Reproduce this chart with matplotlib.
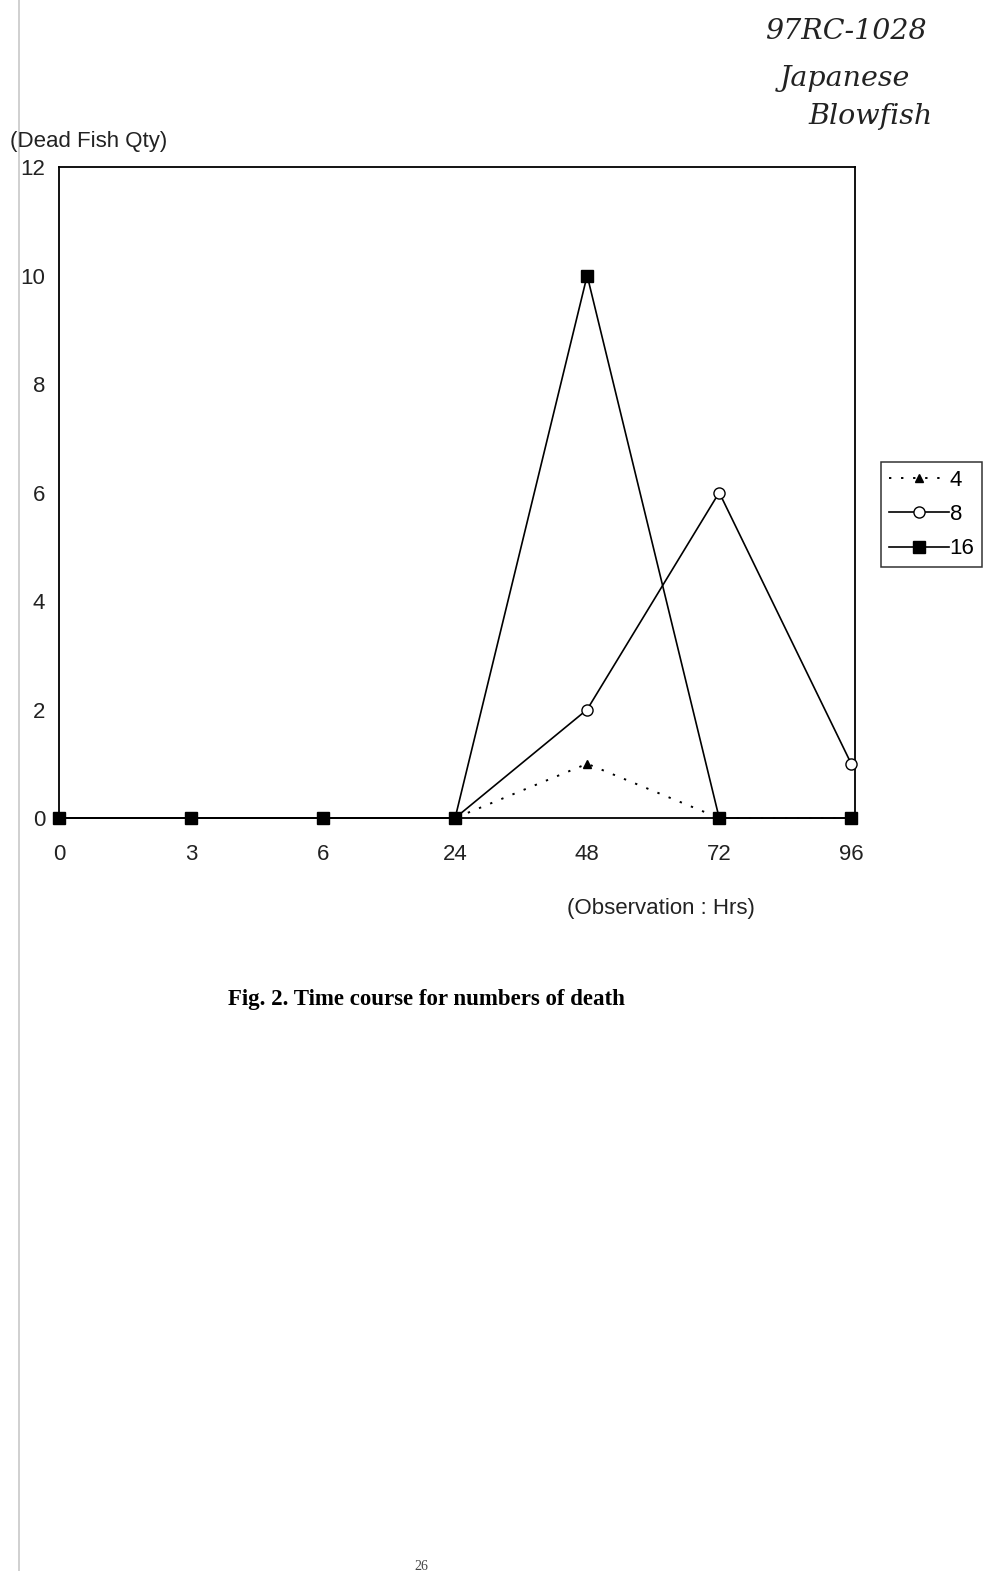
import matplotlib.pyplot as plt
from matplotlib.lines import Line2D

# observation times (hours) and dead fish counts per concentration
hours = ["0", "3", "6", "24", "48", "72", "96"]
dead_4 = [0, 0, 0, 0, 1, 0, 0]
dead_8 = [0, 0, 0, 0, 2, 6, 1]
dead_16 = [0, 0, 0, 0, 10, 0, 0]
y_ticks = [0, 2, 4, 6, 8, 10, 12]

plt.rcParams['font.family'] = ['Liberation Sans', 'DejaVu Sans']

fig = plt.figure(figsize=(9.83, 15.71), dpi=100)
ax = fig.add_axes([0.060, 0.4793, 0.810, 0.4144])

dots = (0, (1.2, 5))
x = list(range(len(hours)))
ax.plot(x, dead_4, ls=dots, color='black', lw=1.4, marker='^',
        ms=6, mfc='black', clip_on=False, zorder=3)
ax.plot(x, dead_8, ls='-', color='black', lw=1.2, marker='o', ms=8,
        mfc='white', mec='black', clip_on=False, zorder=4)
ax.plot(x, dead_16, ls='-', color='black', lw=1.2, marker='s', ms=8,
        mfc='black', clip_on=False, zorder=5)

ax.set_xlim(0, 6.03)
ax.set_ylim(0, 12)
ax.set_xticks(x)
ax.set_xticklabels(hours)
ax.set_yticks(y_ticks)
ax.tick_params(length=0, labelsize=16, colors='#222222')
ax.tick_params(axis='x', pad=19)
ax.tick_params(axis='y', pad=10)
for s in ax.spines.values():
    s.set_linewidth(1.3)

fig.text(0.010, 0.910, "(Dead Fish Qty)", fontsize=16, color='#222222', va='center')
fig.text(0.577, 0.422, "(Observation : Hrs)", fontsize=16, color='#222222', va='center')

fig.text(0.232, 0.364, "Fig. 2. Time course for numbers of death", fontsize=16.5,
         fontweight='bold', family=['Liberation Serif', 'DejaVu Serif'], va='center')

# page number at bottom
fig.text(0.422, -0.001, "26", fontsize=10, family=['Liberation Serif', 'DejaVu Serif'],
         va='bottom', color='#444444')

# handwritten note
note = dict(fontsize=20.5, style='italic', family=['DejaVu Serif'], color='#222222')
fig.text(0.778, 0.980, "97RC-1028", **note, va='center')
fig.text(0.793, 0.950, "Japanese", **note, va='center')
fig.text(0.822, 0.926, "Blowfish", **note, va='center')

handles = [
    Line2D([], [], ls=dots, color='black', lw=1.4, marker='^', ms=6),
    Line2D([], [], ls='-', color='black', lw=1.2, marker='o', ms=8, mfc='white'),
    Line2D([], [], ls='-', color='black', lw=1.2, marker='s', ms=8),
]
leg = fig.legend(handles, ["4", "8", "16"], loc='upper left',
                 bbox_to_anchor=(0.896, 0.706), borderaxespad=0, fontsize=16,
                 frameon=True, fancybox=False, edgecolor='black',
                 handlelength=2.7, handletextpad=0.05, borderpad=0.35,
                 labelspacing=0.6)
leg.get_frame().set_linewidth(1.1)

# faint scan line along the left edge
fig.add_artist(Line2D([0.019, 0.019], [0, 1], transform=fig.transFigure,
                      color='#c8c8c8', lw=1.2))

fig.savefig("out.png", dpi=100)
